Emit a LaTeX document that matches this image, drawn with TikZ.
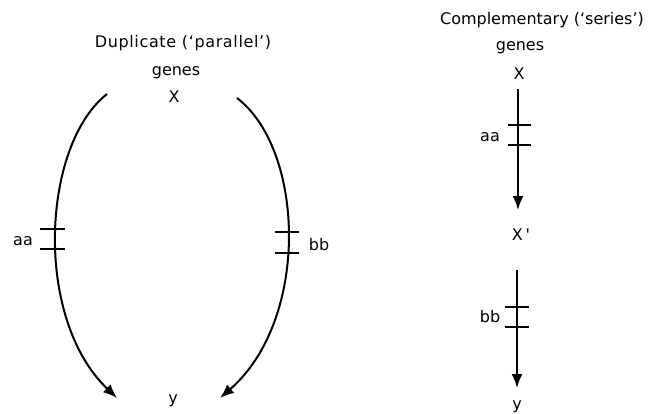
\documentclass[tikz,border=0pt]{standalone}
\usepackage{fontspec}
\newfontfamily\labfont{DejaVu Sans}
\newfontfamily\widefont{DejaVu Sans}[LetterSpace=4]
\usetikzlibrary{arrows.meta}
\tikzset{
  lab/.style={font=\labfont\fontsize{16}{18}\selectfont, inner sep=0pt, anchor=center},
  ttlw/.style={font=\widefont\fontsize{16}{18}\selectfont, inner sep=0pt, anchor=center},
  conn/.style={line width=2pt, -{Latex[length=14pt,width=11pt]}},
  bar/.style={line width=1.8pt},
}
\begin{document}
\begin{tikzpicture}[x=1pt,y=-1pt]
\useasboundingbox (0,0) rectangle (657,413);
% left panel
\node[ttlw] (t1) at (183,43) {Duplicate (‘parallel’)};
\node[lab] (g1) at (176,73) {genes};
\node[lab] (x1) at (174,97) {X};
\node[lab] (y1) at (173,401) {y};
\coordinate (ls) at (107,94);
\coordinate (le) at (117,398);
\coordinate (rs) at (237,98);
\coordinate (re) at (220,398);
\draw[conn] (ls) .. controls (42,145) and (33,318) .. (le);
\draw[conn] (rs) .. controls (305,150) and (310,320) .. (re);
\draw[bar] (40,229) -- (65,229);
\draw[bar] (40,249) -- (65,249);
\draw[bar] (275,232) -- (299,232);
\draw[bar] (275,253) -- (299,253);
\node[lab] (aa1) at (23,241) {aa};
\node[lab] (bb1) at (319,245) {bb};
% right panel
\node[lab] (t2) at (542,20) {Complementary (‘series’)};
\node[lab] (g2) at (520,48) {genes};
\node[lab] (x2) at (519,74) {X};
\node[lab] (x2p) at (521,235) {X\,'};
\node[lab] (y2) at (517,407) {y};
\coordinate (a1) at (518,89);
\coordinate (a2) at (518,210);
\coordinate (b1) at (517,270);
\coordinate (b2) at (517,388);
\draw[conn] (a1) -- (a2);
\draw[conn] (b1) -- (b2);
\draw[bar] (508,125) -- (531,125);
\draw[bar] (508,145) -- (531,145);
\draw[bar] (505,307) -- (529,307);
\draw[bar] (505,327) -- (529,327);
\node[lab] (aa2) at (490,137) {aa};
\node[lab] (bb2) at (490,317) {bb};
\end{tikzpicture}
\end{document}
